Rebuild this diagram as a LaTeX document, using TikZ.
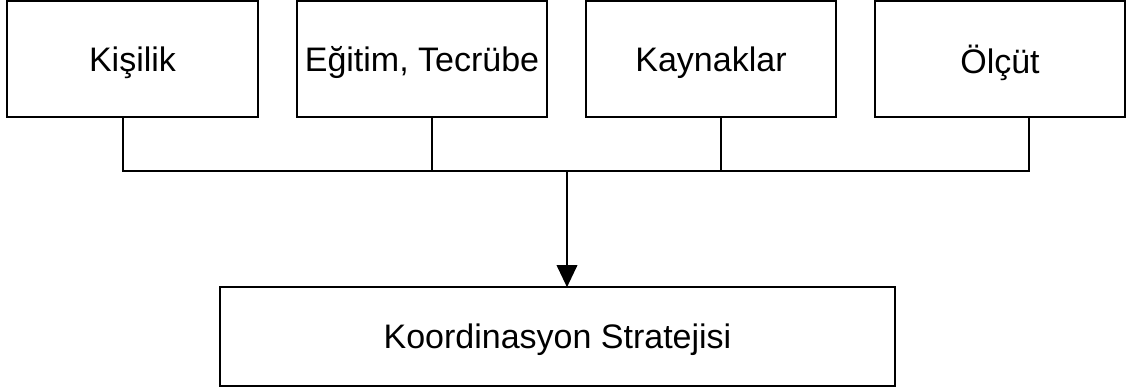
\documentclass[tikz,border=0pt]{standalone}
\usepackage{fontspec}
\setmainfont{Liberation Sans}
\usetikzlibrary{arrows.meta}
\tikzset{
  factor/.style = {draw, line width=1.2pt, outer sep=0pt, inner sep=0pt,
    minimum width=187.5pt, minimum height=87pt, text depth=0pt,
    font=\fontsize{25.5}{30}\selectfont},
  result/.style = {factor, minimum width=506pt, minimum height=74pt},
  link/.style = {line width=1pt}
}
\begin{document}
\begin{tikzpicture}[x=0.75pt, y=-0.75pt]
\useasboundingbox (0,0) rectangle (1133,389);
% top row
\node[factor, minimum width=188pt] (kisilik) at (132.5,59) {Kişilik};
\node[factor] (egitim) at (422,59) {Eğitim, Tecrübe};
\node[factor] (kaynak) at (711,59) {Kaynaklar};
\node[factor] (olcut) at (1000,59) {Ölçüt};
% result
\node[result] (strateji) at (557.5,336.5) {Koordinasyon Stratejisi};

\coordinate (j1) at (123,171);
\coordinate (j2) at (432,171);
\coordinate (j3) at (721,171);
\coordinate (j4) at (1029,171);
\coordinate (jm) at (567,171);

\draw[link] (j1 |- kisilik.south) -- (j1) -- (j4) -- (j4 |- olcut.south);
\draw[link] (j2 |- egitim.south) -- (j2);
\draw[link] (j3 |- kaynak.south) -- (j3);
\draw[link, -{Triangle[length=16.5pt, width=15.5pt]}] (jm) -- (jm |- strateji.north);
\end{tikzpicture}
\end{document}
